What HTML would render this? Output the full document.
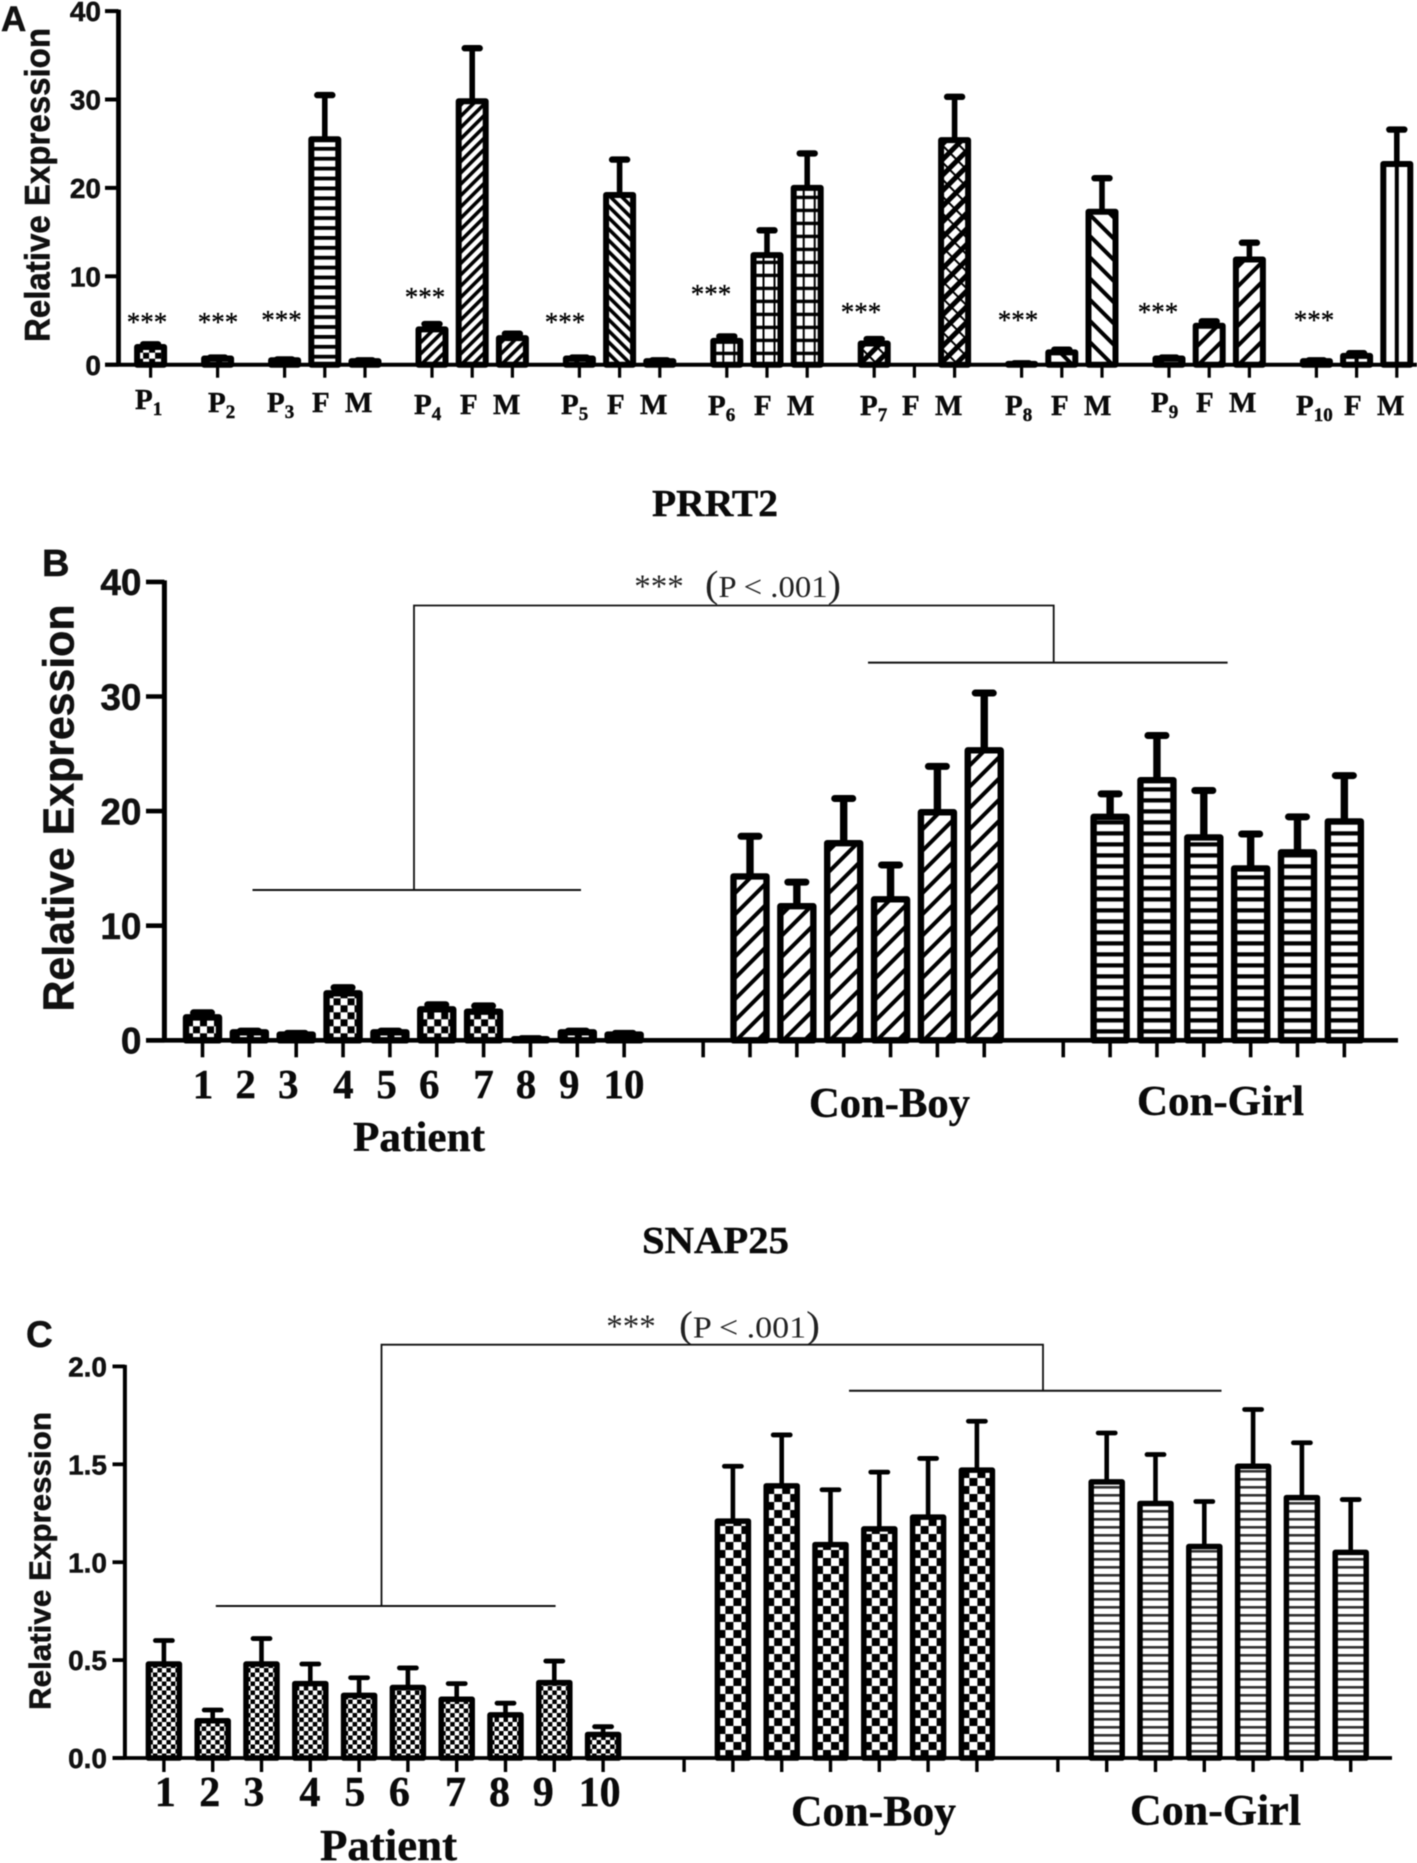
<!DOCTYPE html>
<html lang="en">
<head>
<meta charset="utf-8">
<title>Relative expression of PRRT2 and SNAP25</title>
<style>
html,body{margin:0;padding:0;background:#fff;width:1417px;height:1863px;overflow:hidden}
svg{display:block;filter:blur(0.45px)}
.sans{font-family:"Liberation Sans",Arial,sans-serif;font-weight:700;fill:#111;stroke:#111;stroke-width:.5px}
.serif{font-family:"Liberation Serif","Times New Roman",serif;font-weight:700;fill:#0a0a0a;stroke:#0a0a0a;stroke-width:.4px}
.thin{font-family:"Liberation Serif","Times New Roman",serif;font-weight:400;fill:#222}
.star{font-family:"Liberation Serif","Times New Roman",serif;font-weight:400;fill:#000;stroke:#000;stroke-width:.3px;font-size:27px;text-anchor:middle}
.lbl{font-size:29px}
.sub{font-size:19px}
.paren{font-size:38px}
.br{stroke:#111;fill:none}
</style>
</head>
<body>
<svg id="fig" xmlns="http://www.w3.org/2000/svg" width="1417" height="1863" viewBox="0 0 1417 1863">
<defs id="defs">
  <pattern id="p-check-a" patternUnits="userSpaceOnUse" width="12" height="12"><rect width="12" height="12" fill="#000"/><rect x="0" y="0" width="6" height="6" fill="#fff"/><rect x="6" y="6" width="6" height="6" fill="#fff"/></pattern>
  <pattern id="p-hline-a" patternUnits="userSpaceOnUse" width="27" height="9.9"><rect width="27" height="9.9" fill="#fff"/><rect y="0" width="27" height="3.8" fill="#000"/></pattern>
  <pattern id="p-dense-fwd" patternUnits="userSpaceOnUse" width="8" height="8" patternTransform="rotate(45)"><rect width="8" height="8" fill="#fff"/><rect width="3.6" height="8" fill="#000"/></pattern>
  <pattern id="p-dense-back" patternUnits="userSpaceOnUse" width="8" height="8" patternTransform="rotate(-45)"><rect width="8" height="8" fill="#fff"/><rect width="3.6" height="8" fill="#000"/></pattern>
  <pattern id="p-grid" patternUnits="userSpaceOnUse" width="11" height="13"><rect width="11" height="13" fill="#fff"/><rect x="9" width="3" height="13" fill="#000"/><rect y="0" width="11" height="3.4" fill="#000"/></pattern>
  <pattern id="p-thick" patternUnits="userSpaceOnUse" width="11" height="12" patternTransform="rotate(45)"><rect width="11" height="12" fill="#000"/><rect x="1.5" y="1" width="6" height="10" fill="#fff"/></pattern>
  <pattern id="p-sparse-back" patternUnits="userSpaceOnUse" width="15" height="15" patternTransform="rotate(-45)"><rect width="15" height="15" fill="#fff"/><rect width="4" height="15" fill="#000"/></pattern>
  <pattern id="p-sparse-fwd" patternUnits="userSpaceOnUse" width="14" height="14" patternTransform="rotate(45)"><rect width="14" height="14" fill="#fff"/><rect width="4" height="14" fill="#000"/></pattern>
  <pattern id="p-vline" patternUnits="userSpaceOnUse" width="32" height="10"><rect width="32" height="10" fill="#fff"/><rect x="11.5" width="4" height="10" fill="#000"/></pattern>
  <pattern id="p-check-b" patternUnits="userSpaceOnUse" width="14" height="14"><rect width="14" height="14" fill="#000"/><rect x="0" y="0" width="7" height="7" fill="#fff"/><rect x="7" y="7" width="7" height="7" fill="#fff"/></pattern>
  <pattern id="p-boy-b" patternUnits="userSpaceOnUse" width="15" height="15" patternTransform="rotate(45)"><rect width="15" height="15" fill="#fff"/><rect width="4" height="15" fill="#000"/></pattern>
  <pattern id="p-girl-b" patternUnits="userSpaceOnUse" width="34" height="11"><rect width="34" height="11" fill="#fff"/><rect width="34" height="4.2" fill="#000"/></pattern>
  <pattern id="p-dots-c" patternUnits="userSpaceOnUse" width="9" height="9"><rect width="9" height="9" fill="#fff"/><rect x="0" y="0" width="4.5" height="4.5" fill="#000"/><rect x="4.5" y="4.5" width="4.5" height="4.5" fill="#000"/></pattern>
  <pattern id="p-boy-c" patternUnits="userSpaceOnUse" width="16" height="16"><rect width="16" height="16" fill="#fff"/><rect x="0" y="0" width="8" height="8" fill="#000"/><rect x="8" y="8" width="8" height="8" fill="#000"/></pattern>
  <pattern id="p-girl-c" patternUnits="userSpaceOnUse" width="32" height="8"><rect width="32" height="8" fill="#fff"/><rect width="32" height="2.6" fill="#333"/></pattern>
</defs>

<g>
  <text class="sans" x="1" y="31" font-size="35">A</text>
  <text class="sans" transform="translate(49.5,185) rotate(-90)" text-anchor="middle" font-size="35" textLength="314" lengthAdjust="spacingAndGlyphs">Relative Expression</text>
  <text class="star" x="147" y="331">***</text>
  <text class="star" x="218" y="331">***</text>
  <text class="star" x="281.5" y="329">***</text>
  <text class="star" x="425" y="306">***</text>
  <text class="star" x="565" y="331">***</text>
  <text class="star" x="711" y="303">***</text>
  <text class="star" x="861" y="321">***</text>
  <text class="star" x="1018" y="329">***</text>
  <text class="star" x="1158" y="321">***</text>
  <text class="star" x="1314" y="329">***</text>
  <g class="serif lbl">
    <text class="serif lbl" x="135" y="409">P<tspan class="sub" dy="6">1</tspan></text>
    <text class="serif lbl" x="208" y="412">P<tspan class="sub" dy="6">2</tspan></text>
    <text class="serif lbl" x="267" y="412">P<tspan class="sub" dy="6">3</tspan></text>
    <text class="serif lbl" x="312" y="412">F</text>
    <text class="serif lbl" x="345" y="412">M</text>
    <text class="serif lbl" x="414" y="414">P<tspan class="sub" dy="6">4</tspan></text>
    <text class="serif lbl" x="460" y="414">F</text>
    <text class="serif lbl" x="493" y="414">M</text>
    <text class="serif lbl" x="561" y="414">P<tspan class="sub" dy="6">5</tspan></text>
    <text class="serif lbl" x="607" y="414">F</text>
    <text class="serif lbl" x="640" y="414">M</text>
    <text class="serif lbl" x="708" y="415">P<tspan class="sub" dy="6">6</tspan></text>
    <text class="serif lbl" x="754" y="415">F</text>
    <text class="serif lbl" x="787" y="415">M</text>
    <text class="serif lbl" x="860" y="415">P<tspan class="sub" dy="6">7</tspan></text>
    <text class="serif lbl" x="902" y="415">F</text>
    <text class="serif lbl" x="935" y="415">M</text>
    <text class="serif lbl" x="1005" y="415">P<tspan class="sub" dy="6">8</tspan></text>
    <text class="serif lbl" x="1051" y="415">F</text>
    <text class="serif lbl" x="1084" y="415">M</text>
    <text class="serif lbl" x="1151" y="412">P<tspan class="sub" dy="6">9</tspan></text>
    <text class="serif lbl" x="1196" y="412">F</text>
    <text class="serif lbl" x="1229" y="412">M</text>
    <text class="serif lbl" x="1296" y="415">P<tspan class="sub" dy="6">10</tspan></text>
    <text class="serif lbl" x="1344" y="415">F</text>
    <text class="serif lbl" x="1377" y="415">M</text>
  </g>
</g>

<g>
  <text class="serif" x="652" y="516" font-size="38" textLength="126" lengthAdjust="spacingAndGlyphs">PRRT2</text>
  <text class="sans" x="42" y="576" font-size="38">B</text>
  <text class="sans" transform="translate(73.5,808) rotate(-90)" text-anchor="middle" font-size="44" textLength="407" lengthAdjust="spacingAndGlyphs">Relative Expression</text>
  <text class="thin" x="659" y="597" font-size="33" text-anchor="middle">***</text>
  <text class="thin" x="705" y="597" font-size="31" textLength="136" lengthAdjust="spacingAndGlyphs"><tspan class="paren">(</tspan>P &lt; .001<tspan class="paren">)</tspan></text>
  <path class="br" stroke-width="1.8" d="M414 890V605.5H1053.7V662.6"/>
  <path class="br" stroke-width="2" d="M252.5 890H581"/>
  <path class="br" stroke-width="2" d="M868 662.6H1227.6"/>
  <text class="serif" x="203" y="1098" font-size="41" text-anchor="middle">1</text>
  <text class="serif" x="245.6" y="1098" font-size="41" text-anchor="middle">2</text>
  <text class="serif" x="288.3" y="1098" font-size="41" text-anchor="middle">3</text>
  <text class="serif" x="343.4" y="1098" font-size="41" text-anchor="middle">4</text>
  <text class="serif" x="386.6" y="1098" font-size="41" text-anchor="middle">5</text>
  <text class="serif" x="429.3" y="1098" font-size="41" text-anchor="middle">6</text>
  <text class="serif" x="483.5" y="1098" font-size="41" text-anchor="middle">7</text>
  <text class="serif" x="526" y="1098" font-size="41" text-anchor="middle">8</text>
  <text class="serif" x="569.3" y="1098" font-size="41" text-anchor="middle">9</text>
  <text class="serif" x="624" y="1098" font-size="41" text-anchor="middle">10</text>
  <text class="serif" x="353" y="1151" font-size="42" textLength="132" lengthAdjust="spacingAndGlyphs">Patient</text>
  <text class="serif" x="809" y="1117" font-size="42" textLength="161" lengthAdjust="spacingAndGlyphs">Con-Boy</text>
  <text class="serif" x="1137" y="1115" font-size="42" textLength="167" lengthAdjust="spacingAndGlyphs">Con-Girl</text>
</g>

<g>
  <text class="serif" x="642" y="1253" font-size="38" textLength="147" lengthAdjust="spacingAndGlyphs">SNAP25</text>
  <text class="sans" x="26" y="1347" font-size="37">C</text>
  <text class="sans" transform="translate(50.5,1561) rotate(-90)" text-anchor="middle" font-size="31" textLength="298" lengthAdjust="spacingAndGlyphs">Relative Expression</text>
  <text class="thin" x="631" y="1337" font-size="33" text-anchor="middle">***</text>
  <text class="thin" x="679" y="1337.5" font-size="31" textLength="141" lengthAdjust="spacingAndGlyphs"><tspan class="paren">(</tspan>P &lt; .001<tspan class="paren">)</tspan></text>
  <path class="br" stroke-width="1.8" d="M381.5 1605.5V1344.7H1043V1390.8"/>
  <path class="br" stroke-width="2" d="M215.8 1606H555.6"/>
  <path class="br" stroke-width="2" d="M849 1390.8H1221.5"/>
  <text class="serif" x="165.3" y="1806" font-size="42" text-anchor="middle">1</text>
  <text class="serif" x="209.8" y="1806" font-size="42" text-anchor="middle">2</text>
  <text class="serif" x="253.9" y="1806" font-size="42" text-anchor="middle">3</text>
  <text class="serif" x="309.9" y="1806" font-size="42" text-anchor="middle">4</text>
  <text class="serif" x="354.9" y="1806" font-size="42" text-anchor="middle">5</text>
  <text class="serif" x="399.4" y="1806" font-size="42" text-anchor="middle">6</text>
  <text class="serif" x="455.5" y="1806" font-size="42" text-anchor="middle">7</text>
  <text class="serif" x="499.5" y="1806" font-size="42" text-anchor="middle">8</text>
  <text class="serif" x="543.2" y="1806" font-size="42" text-anchor="middle">9</text>
  <text class="serif" x="599.6" y="1806" font-size="42" text-anchor="middle">10</text>
  <text class="serif" x="320" y="1860" font-size="44" textLength="137" lengthAdjust="spacingAndGlyphs">Patient</text>
  <text class="serif" x="791" y="1825.5" font-size="43" textLength="165" lengthAdjust="spacingAndGlyphs">Con-Boy</text>
  <text class="serif" x="1130" y="1824.5" font-size="43" textLength="171" lengthAdjust="spacingAndGlyphs">Con-Girl</text>
</g>
<g id="marks"></g>
</svg>

<script>
// ---- Panel A: individual patients with father / mother ----
const categoriesA = ['P1','P2','P3','F3','M3','P4','F4','M4','P5','F5','M5','P6','F6','M6','P7','F7','M7','P8','F8','M8','P9','F9','M9','P10','F10','M10'];
const valuesA = [2.0,0.7,0.5,25.5,0.4,4.0,29.8,3.0,0.7,19.2,0.4,2.7,12.4,20.0,2.4,0,25.4,0.1,1.4,17.3,0.7,4.4,11.9,0.4,1.0,22.7];
const errorsA = [0.3,0.1,0.1,5.0,0.1,0.6,6.0,0.5,0.1,4.0,0.1,0.5,2.8,3.9,0.5,0,4.9,0.05,0.3,3.8,0.1,0.5,1.9,0.1,0.3,3.9];
const yTicksA = [0,10,20,30,40];
const yTickLabelsA = ['0','10','20','30','40'];

// ---- Panel B: PRRT2 ----
const categoriesB = ['1','2','3','4','5','6','7','8','9','10','blank-boy','B1','B2','B3','B4','B5','B6','blank-girl','G1','G2','G3','G4','G5','G6'];
const valuesB = [2.0,0.7,0.5,4.1,0.7,2.7,2.5,0.1,0.7,0.5,null,14.3,11.7,17.2,12.3,19.9,25.3,null,19.5,22.7,17.7,15.0,16.4,19.1];
const errorsB = [0.4,0.1,0.1,0.5,0.1,0.4,0.5,0.05,0.1,0.1,null,3.5,2.1,3.9,3.0,4.0,5.0,null,2.0,3.9,4.1,3.0,3.1,4.0];
const yTicksB = [0,10,20,30,40];
const yTickLabelsB = ['0','10','20','30','40'];

// ---- Panel C: SNAP25 ----
const categoriesC = categoriesB;
const valuesC = [0.48,0.19,0.48,0.38,0.32,0.36,0.30,0.22,0.385,0.12,null,1.21,1.39,1.09,1.17,1.23,1.47,null,1.41,1.30,1.08,1.49,1.33,1.05];
const errorsC = [0.12,0.055,0.13,0.10,0.09,0.10,0.08,0.06,0.11,0.04,null,0.28,0.26,0.28,0.29,0.30,0.25,null,0.25,0.25,0.23,0.29,0.28,0.27];
const yTicksC = [0,0.5,1,1.5,2];
const yTickLabelsC = ['0.0','0.5','1.0','1.5','2.0'];

const SVGNS = 'http://www.w3.org/2000/svg';
const marks = document.getElementById('marks');
const defs = document.getElementById('defs');
let patternCounter = 0;

function mk(parent, tag, attrs) {
  const el = document.createElementNS(SVGNS, tag);
  for (const k in attrs) el.setAttribute(k, attrs[k]);
  parent.appendChild(el);
  return el;
}

function anchoredPattern(baseId, x, y) {
  const clone = document.getElementById(baseId).cloneNode(true);
  const id = baseId + '-' + (patternCounter++);
  clone.setAttribute('id', id);
  const rot = clone.getAttribute('patternTransform') || '';
  clone.setAttribute('patternTransform', 'translate(' + x + ',' + y + ') ' + rot);
  defs.appendChild(clone);
  return 'url(#' + id + ')';
}

function drawPanel(name, categories, values, errors, yTicks, yTickLabels, patternFor, cfg) {
  const g = mk(marks, 'g', {});
  
  

  const yScale = function (v) { return cfg.base - v * cfg.unit; };
  const xPositions = [];
  let cursor = cfg.x0, groupIdx = 0, inGroup = 0;
  categories.forEach(function () {
    xPositions.push(cursor);
    inGroup++;
    if (inGroup === cfg.groups[groupIdx]) { cursor += cfg.gap; groupIdx++; inGroup = 0; }
    else { cursor += cfg.step; }
  });
  const xScale = function (i) { return xPositions[i]; };

  categories.forEach(function (cat, i) {
    const x = xScale(i);
    const tick = mk(g, 'line', {x1: x, x2: x, y1: cfg.base, y2: cfg.base + cfg.tickLen, stroke: '#000', 'stroke-width': cfg.tickW});
    
    
    const v = values[i];
    if (v === null) return;
    const e = errors[i];
    const top = yScale(v);
    if (e > 0) {
      const errY = yScale(v + e);
      const stem = mk(g, 'line', {x1: x, x2: x, y1: top, y2: errY, stroke: '#000', 'stroke-width': cfg.errW});
      
      
      const cap = mk(g, 'line', {x1: x - cfg.capW / 2, x2: x + cfg.capW / 2, y1: errY, y2: errY, stroke: '#000', 'stroke-width': cfg.capH, 'stroke-linecap': 'round'});
      
      
    }
    const left = x - cfg.barW / 2;
    const bar = mk(g, 'rect', {
      x: left, y: top, width: cfg.barW, height: Math.max(cfg.base - top, 0),
      fill: anchoredPattern(patternFor(i), left, cfg.base),
      stroke: '#000', 'stroke-width': cfg.barStroke, 'stroke-linejoin': 'round'
    });
    
    
  });

  const xAxis = mk(g, 'line', {x1: cfg.axisLeft, x2: cfg.axisRight, y1: cfg.base, y2: cfg.base, stroke: '#000', 'stroke-width': cfg.axisW});
  
  
  const yAxis = mk(g, 'line', {x1: cfg.axisX, x2: cfg.axisX, y1: yScale(yTicks[yTicks.length - 1]) - 1.5, y2: cfg.base + 1.5, stroke: '#000', 'stroke-width': cfg.axisYW});
  
  

  yTicks.forEach(function (t, i) {
    const y = yScale(t);
    const tick = mk(g, 'line', {x1: cfg.axisLeft, x2: cfg.axisX, y1: y, y2: y, stroke: '#000', 'stroke-width': cfg.axisW});
    
    
    const label = mk(g, 'text', {x: cfg.labelX, y: y, dy: '0.36em', 'text-anchor': 'end', 'font-size': cfg.labelSize, 'class': 'sans'});
    label.textContent = yTickLabels[i];
    
    
  });
}

const patternSetA = ['p-check-a','p-check-a','p-hline-a','p-hline-a','p-hline-a','p-dense-fwd','p-dense-fwd','p-dense-fwd','p-dense-back','p-dense-back','p-dense-back','p-grid','p-grid','p-grid','p-thick','p-thick','p-thick','p-sparse-back','p-sparse-back','p-sparse-back','p-sparse-fwd','p-sparse-fwd','p-sparse-fwd','p-vline','p-vline','p-vline'];

drawPanel('panel-a-chart', categoriesA, valuesA, errorsA, yTicksA, yTickLabelsA,
  function (i) { return patternSetA[i]; },
  {x0: 150.6, step: 40.2, gap: 67, groups: [1,1,3,3,3,3,3,3,3,3],
   base: 364.7, unit: 8.84, barW: 27, barStroke: 6, errW: 5.6, capW: 15, capH: 6.4,
   tickLen: 13, tickW: 3.2, axisLeft: 105, axisRight: 1417, axisW: 4, axisX: 118.5, axisYW: 4.8,
   labelX: 101, labelSize: 28});

drawPanel('panel-b-chart', categoriesB, valuesB, errorsB, yTicksB, yTickLabelsB,
  function (i) { return i < 10 ? 'p-check-b' : (i < 17 ? 'p-boy-b' : 'p-girl-b'); },
  {x0: 202.5, step: 46.85, gap: 79, groups: [10,7,7],
   base: 1040.3, unit: 11.46, barW: 33, barStroke: 6.4, errW: 7.4, capW: 18, capH: 7,
   tickLen: 17, tickW: 3.6, axisLeft: 146, axisRight: 1398, axisW: 4.6, axisX: 164.4, axisYW: 5,
   labelX: 141.5, labelSize: 37});

drawPanel('panel-c-chart', categoriesC, valuesC, errorsC, yTicksC, yTickLabelsC,
  function (i) { return i < 10 ? 'p-dots-c' : (i < 17 ? 'p-boy-c' : 'p-girl-c'); },
  {x0: 163.9, step: 48.8, gap: 81, groups: [10,7,7],
   base: 1758, unit: 195.8, barW: 31, barStroke: 5.5, errW: 4.6, capW: 17, capH: 4.8,
   tickLen: 14, tickW: 3.4, axisLeft: 112.5, axisRight: 1392, axisW: 3.8, axisX: 124.9, axisYW: 4,
   labelX: 107, labelSize: 28});
</script>
</body>
</html>
